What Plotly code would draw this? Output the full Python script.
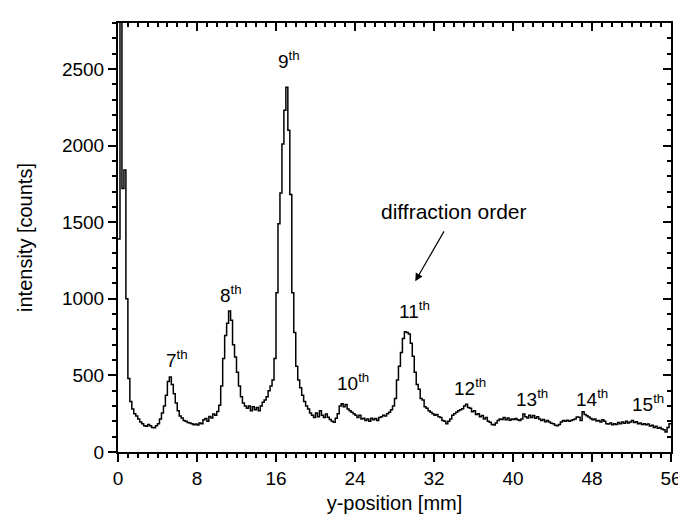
import plotly.graph_objects as go

# detector scan, 0.2 mm bins (left edge of each bin)
bin_width = 0.2
counts = [
    1390, 3300, 1720, 1840, 1000, 480, 330, 280, 250, 235,
    215, 195, 185, 172, 168, 180, 172, 160, 158, 172,
    185, 215, 255, 300, 370, 460, 490, 440, 380, 320,
    270, 235, 222, 205, 200, 192, 190, 185, 178, 182,
    176, 190, 185, 210, 218, 200, 232, 222, 248, 240,
    265, 305, 430, 610, 760, 840, 920, 860, 700, 620,
    520, 430, 360, 320, 300, 285, 300, 270, 295, 275,
    290, 270, 300, 325, 340, 360, 400, 430, 470, 610,
    1040, 1490, 1690, 2010, 2230, 2380, 2100, 1680, 1040, 780,
    560, 470, 420, 370, 330, 300, 280, 255, 240, 225,
    255, 230, 270, 240, 225, 248, 226, 212, 200, 194,
    220, 250, 300, 315, 295, 310, 280, 270, 260, 250,
    240, 225, 240, 215, 220, 205, 215, 200, 220, 210,
    218, 205, 225, 230, 240, 235, 250, 260, 275, 300,
    350, 470, 560, 650, 740, 785, 780, 770, 710, 625,
    520, 440, 410, 350, 340, 295, 285, 270, 260, 250,
    240, 245, 230, 225, 205, 200, 185, 200, 215, 240,
    250, 260, 270, 275, 282, 300, 312, 290, 285, 262,
    270, 245, 250, 230, 238, 215, 225, 200, 194, 180,
    177, 190, 205, 215, 212, 225, 210, 222, 208, 215,
    212, 218, 210, 205, 215, 248, 230, 222, 240, 225,
    238, 220, 230, 215, 205, 212, 198, 205, 195, 188,
    185, 175, 172, 180, 195, 205, 200, 208, 200, 205,
    210, 215, 228, 226, 205, 262, 245, 236, 228, 218,
    210, 215, 203, 205, 195, 210, 200, 185, 182, 190,
    178, 185, 180, 192, 185, 195, 188, 200, 190, 196,
    205, 192, 198, 185, 190, 180, 185, 178, 182, 170,
    175, 160, 168, 155, 160, 150, 145, 130, 160, 185,
]
positions = [round(i * bin_width, 2) for i in range(len(counts))]

# peak labels: (text, x in mm, y in counts)
order_labels = ["7", "8", "9", "10", "11", "12", "13", "14", "15"]
order_x = [6.0, 11.4, 17.3, 23.8, 30.0, 35.6, 41.9, 48.0, 53.7]
order_y = [610, 1030, 2560, 455, 925, 425, 355, 355, 320]

FONT = "Liberation Sans, Arial, sans-serif"

fig = go.Figure()
fig.add_trace(go.Scatter(
    x=positions + [56],
    y=counts + [counts[-1]],
    mode="lines",
    line=dict(color="black", width=1.5, shape="hv"),
    showlegend=False,
))
# dummy trace so the mirrored top/right axes get drawn
fig.add_trace(go.Scatter(x=[None], y=[None], xaxis="x2", yaxis="y2",
                         showlegend=False, hoverinfo="skip"))

for lab, xv, yv in zip(order_labels, order_x, order_y):
    fig.add_annotation(x=xv, y=yv, text=f"{lab}<sup>th</sup>", showarrow=False,
                       font=dict(size=19, color="black", family=FONT))

fig.add_annotation(x=26.4, y=1569, text="diffraction order", showarrow=False,
                   xanchor="left", font=dict(size=21, color="black", family=FONT))
fig.add_annotation(x=30.1, y=1114, ax=33.1, ay=1450, axref="x", ayref="y",
                   text="", showarrow=True, arrowhead=2, arrowsize=1.3,
                   arrowwidth=1.2, arrowcolor="black")

axis_common = dict(showline=True, linecolor="black", linewidth=2,
                   showgrid=False, zeroline=False)

fig.update_layout(
    width=686, height=515,
    margin=dict(l=110, r=15, t=15, b=68),
    plot_bgcolor="white", paper_bgcolor="white",
    font=dict(family=FONT, size=19, color="black"),
    xaxis=dict(range=[0, 56], tick0=0, dtick=8, ticks="outside", ticklen=8,
               tickwidth=1.5, tickcolor="black",
               minor=dict(dtick=1, ticks="outside", ticklen=4, tickcolor="black"),
               title=dict(text="y-position [mm]", font=dict(size=20), standoff=8),
               **axis_common),
    yaxis=dict(range=[0, 2800], tick0=0, dtick=500, ticks="outside", ticklen=8,
               tickwidth=1.5, tickcolor="black",
               minor=dict(dtick=100, ticks="outside", ticklen=4, tickcolor="black"),
               title=dict(text="intensity [counts]", font=dict(size=20), standoff=24),
               **axis_common),
    xaxis2=dict(range=[0, 56], overlaying="x", side="top", anchor="y",
                tick0=0, dtick=8, ticks="inside", ticklen=8, tickwidth=1.5,
                tickcolor="black", showticklabels=False,
                minor=dict(dtick=1, ticks="inside", ticklen=4, tickcolor="black"),
                **axis_common),
    yaxis2=dict(range=[0, 2800], overlaying="y", side="right", anchor="x",
                tick0=0, dtick=500, ticks="inside", ticklen=8, tickwidth=1.5,
                tickcolor="black", showticklabels=False,
                minor=dict(dtick=100, ticks="inside", ticklen=4, tickcolor="black"),
                **axis_common),
)

fig.write_html("out.html")
